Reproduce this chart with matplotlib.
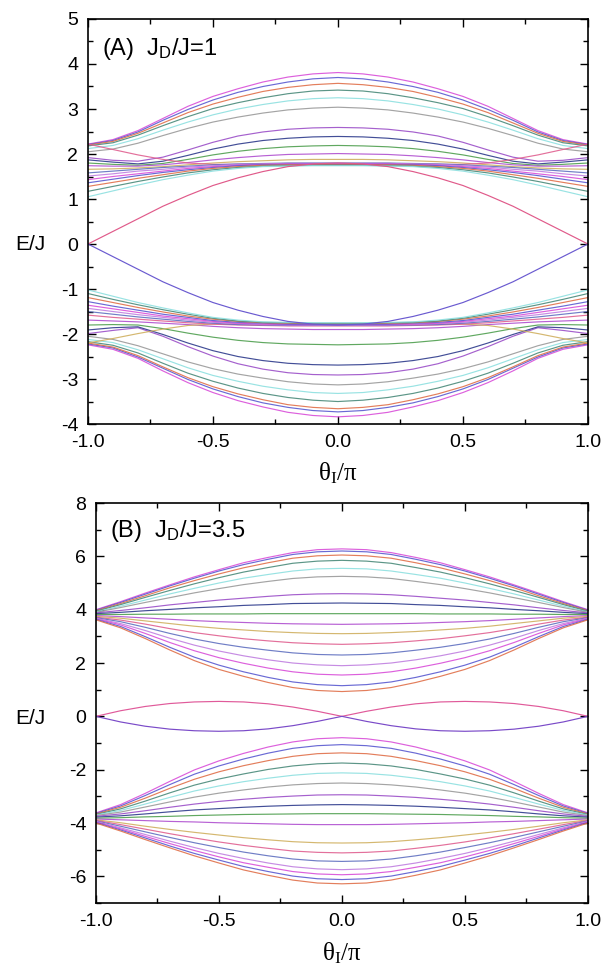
import numpy as np
import matplotlib
matplotlib.use("Agg")
from matplotlib import pyplot as plt
from matplotlib.ticker import MultipleLocator, FormatStrFormatter

plt.rcParams['font.family'] = ['Liberation Sans', 'DejaVu Sans']
plt.rcParams['axes.unicode_minus'] = False
plt.rcParams['mathtext.default'] = 'regular'

# Datos
# ========================================
# Las bandas son simétricas en theta: se guarda la mitad 0..1
theta_half = [0.0, 0.1, 0.2, 0.3, 0.4, 0.5, 0.6, 0.7, 0.8, 0.9, 1.0]
theta_full = [-1.0, -0.9, -0.8, -0.7, -0.6, -0.5, -0.4, -0.3, -0.2, -0.1, 0.0,
              0.1, 0.2, 0.3, 0.4, 0.5, 0.6, 0.7, 0.8, 0.9, 1.0]

# Panel (A) J_D/J = 1, banda superior
a_upper = [
    [3.81, 3.78, 3.71, 3.60, 3.45, 3.28, 3.06, 2.79, 2.52, 2.32, 2.22],
    [3.70, 3.67, 3.60, 3.50, 3.37, 3.20, 2.99, 2.75, 2.49, 2.30, 2.21],
    [3.57, 3.54, 3.48, 3.39, 3.26, 3.11, 2.92, 2.69, 2.46, 2.28, 2.20],
    [3.42, 3.40, 3.34, 3.25, 3.14, 3.01, 2.83, 2.63, 2.42, 2.25, 2.18],
    [3.25, 3.23, 3.18, 3.10, 3.00, 2.87, 2.71, 2.53, 2.34, 2.19, 2.12],
    [3.04, 3.02, 2.98, 2.91, 2.82, 2.71, 2.57, 2.41, 2.24, 2.11, 2.05],
    [2.59, 2.58, 2.55, 2.49, 2.40, 2.26, 2.09, 1.93, 1.84, 1.86, 1.92],
    [2.39, 2.38, 2.35, 2.30, 2.22, 2.11, 1.97, 1.84, 1.78, 1.82, 1.87],
    [2.19, 2.18, 2.16, 2.12, 2.06, 1.98, 1.88, 1.79, 1.75, 1.77, 1.80],
    [2.01, 2.00, 1.99, 1.96, 1.92, 1.87, 1.81, 1.76, 1.73, 1.73, 1.74],
    [1.88, 1.88, 1.87, 1.85, 1.83, 1.80, 1.76, 1.72, 1.69, 1.67, 1.66],
    [1.79, 1.79, 1.79, 1.78, 1.77, 1.77, 1.80, 1.88, 1.98, 2.10, 2.22],
    [1.80, 1.80, 1.80, 1.79, 1.78, 1.76, 1.73, 1.70, 1.66, 1.62, 1.58],
    [1.79, 1.79, 1.79, 1.78, 1.77, 1.74, 1.71, 1.66, 1.62, 1.56, 1.51],
    [1.78, 1.78, 1.78, 1.77, 1.75, 1.72, 1.68, 1.62, 1.56, 1.50, 1.43],
    [1.77, 1.77, 1.77, 1.76, 1.74, 1.70, 1.65, 1.59, 1.52, 1.44, 1.36],
    [1.76, 1.76, 1.76, 1.75, 1.72, 1.68, 1.62, 1.54, 1.46, 1.37, 1.28],
    [1.75, 1.75, 1.74, 1.73, 1.70, 1.65, 1.58, 1.49, 1.39, 1.28, 1.17],
    [1.74, 1.74, 1.73, 1.72, 1.68, 1.62, 1.53, 1.43, 1.31, 1.18, 1.05],
]
# Panel (A), banda inferior
a_lower = [
    [-3.84, -3.81, -3.74, -3.62, -3.48, -3.30, -3.08, -2.82, -2.54, -2.34, -2.24],
    [-3.73, -3.70, -3.63, -3.53, -3.39, -3.22, -3.01, -2.76, -2.51, -2.31, -2.22],
    [-3.66, -3.63, -3.57, -3.46, -3.33, -3.17, -2.97, -2.73, -2.48, -2.29, -2.20],
    [-3.50, -3.47, -3.41, -3.32, -3.20, -3.05, -2.87, -2.65, -2.42, -2.25, -2.17],
    [-3.32, -3.30, -3.24, -3.16, -3.05, -2.92, -2.75, -2.55, -2.35, -2.19, -2.12],
    [-3.13, -3.11, -3.06, -2.98, -2.89, -2.77, -2.62, -2.44, -2.26, -2.12, -2.05],
    [-2.91, -2.90, -2.86, -2.78, -2.66, -2.49, -2.28, -2.05, -1.86, -1.92, -1.99],
    [-2.69, -2.68, -2.65, -2.59, -2.50, -2.37, -2.20, -2.01, -1.84, -1.86, -1.91],
    [-2.24, -2.23, -2.22, -2.19, -2.14, -2.07, -1.98, -1.88, -1.80, -1.79, -1.80],
    [-1.90, -1.90, -1.89, -1.88, -1.86, -1.83, -1.79, -1.76, -1.73, -1.71, -1.69],
    [-1.80, -1.80, -1.80, -1.79, -1.78, -1.78, -1.81, -1.89, -1.99, -2.10, -2.20],
    [-1.82, -1.82, -1.82, -1.81, -1.80, -1.78, -1.75, -1.71, -1.67, -1.63, -1.58],
    [-1.81, -1.81, -1.81, -1.80, -1.79, -1.76, -1.72, -1.67, -1.62, -1.56, -1.50],
    [-1.80, -1.80, -1.80, -1.79, -1.77, -1.74, -1.69, -1.63, -1.57, -1.50, -1.43],
    [-1.79, -1.79, -1.79, -1.78, -1.76, -1.72, -1.66, -1.60, -1.52, -1.44, -1.36],
    [-1.78, -1.78, -1.78, -1.76, -1.74, -1.70, -1.63, -1.56, -1.47, -1.38, -1.28],
    [-1.77, -1.77, -1.76, -1.75, -1.72, -1.67, -1.60, -1.51, -1.41, -1.30, -1.19],
    [-1.76, -1.76, -1.75, -1.74, -1.71, -1.65, -1.56, -1.46, -1.35, -1.23, -1.10],
    [-1.75, -1.75, -1.74, -1.73, -1.69, -1.63, -1.53, -1.42, -1.30, -1.16, -1.02],
]
# Estados de borde del panel (A)
a_edge_up = [1.80, 1.78, 1.72, 1.61, 1.47, 1.30, 1.08, 0.84, 0.56, 0.28, 0.00]
a_edge_down = [-1.80, -1.78, -1.72, -1.61, -1.47, -1.30, -1.08, -0.84, -0.56, -0.28, 0.00]

# Panel (B) J_D/J = 3.5, banda superior
b_upper = [
    [6.28, 6.25, 6.14, 5.96, 5.76, 5.50, 5.23, 4.93, 4.62, 4.30, 4.00],
    [6.20, 6.17, 6.07, 5.89, 5.69, 5.45, 5.18, 4.89, 4.58, 4.27, 3.98],
    [6.05, 6.02, 5.93, 5.76, 5.57, 5.34, 5.09, 4.82, 4.52, 4.23, 3.96],
    [5.85, 5.82, 5.74, 5.58, 5.41, 5.20, 4.97, 4.72, 4.46, 4.19, 3.94],
    [5.55, 5.53, 5.45, 5.32, 5.18, 5.00, 4.80, 4.59, 4.36, 4.13, 3.92],
    [5.25, 5.23, 5.17, 5.06, 4.94, 4.79, 4.63, 4.45, 4.27, 4.08, 3.90],
    [4.60, 4.59, 4.56, 4.50, 4.43, 4.36, 4.27, 4.18, 4.07, 3.97, 3.88],
    [4.25, 4.24, 4.23, 4.19, 4.16, 4.11, 4.07, 4.01, 3.96, 3.90, 3.85],
    [3.85, 3.85, 3.85, 3.85, 3.84, 3.84, 3.84, 3.83, 3.83, 3.82, 3.82],
    [3.45, 3.46, 3.47, 3.49, 3.52, 3.55, 3.59, 3.64, 3.69, 3.74, 3.78],
    [3.10, 3.11, 3.14, 3.18, 3.24, 3.30, 3.38, 3.48, 3.58, 3.68, 3.75],
    [2.70, 2.72, 2.76, 2.83, 2.91, 3.02, 3.14, 3.29, 3.46, 3.61, 3.72],
    [2.30, 2.32, 2.38, 2.48, 2.59, 2.73, 2.90, 3.11, 3.34, 3.55, 3.70],
    [1.90, 1.93, 2.00, 2.12, 2.27, 2.45, 2.67, 2.93, 3.22, 3.48, 3.68],
    [1.55, 1.58, 1.67, 1.81, 1.99, 2.20, 2.46, 2.77, 3.11, 3.43, 3.66],
    [1.15, 1.19, 1.29, 1.46, 1.67, 1.92, 2.22, 2.59, 2.99, 3.37, 3.64],
    [0.93, 0.97, 1.08, 1.27, 1.50, 1.76, 2.09, 2.49, 2.92, 3.32, 3.62],
]
# Panel (B), banda inferior
b_lower = [
    [-0.80, -0.84, -0.96, -1.15, -1.39, -1.67, -2.01, -2.44, -2.89, -3.31, -3.62],
    [-1.06, -1.10, -1.20, -1.38, -1.60, -1.86, -2.17, -2.56, -2.97, -3.36, -3.64],
    [-1.37, -1.40, -1.50, -1.66, -1.85, -2.08, -2.36, -2.70, -3.07, -3.41, -3.66],
    [-1.75, -1.78, -1.86, -1.99, -2.16, -2.35, -2.58, -2.87, -3.18, -3.47, -3.68],
    [-2.12, -2.14, -2.21, -2.32, -2.45, -2.61, -2.80, -3.04, -3.29, -3.53, -3.70],
    [-2.50, -2.52, -2.57, -2.65, -2.76, -2.88, -3.03, -3.21, -3.40, -3.59, -3.72],
    [-2.94, -2.95, -2.99, -3.04, -3.11, -3.19, -3.29, -3.41, -3.54, -3.66, -3.75],
    [-3.31, -3.32, -3.34, -3.37, -3.41, -3.46, -3.51, -3.58, -3.66, -3.73, -3.78],
    [-3.65, -3.65, -3.66, -3.67, -3.68, -3.70, -3.72, -3.75, -3.77, -3.80, -3.82],
    [-4.06, -4.06, -4.05, -4.03, -4.01, -3.99, -3.96, -3.94, -3.91, -3.88, -3.85],
    [-4.75, -4.74, -4.70, -4.63, -4.55, -4.45, -4.35, -4.24, -4.12, -3.99, -3.88],
    [-5.12, -5.10, -5.05, -4.95, -4.84, -4.71, -4.56, -4.40, -4.23, -4.06, -3.90],
    [-5.44, -5.42, -5.35, -5.23, -5.09, -4.92, -4.74, -4.54, -4.33, -4.12, -3.92],
    [-5.75, -5.72, -5.64, -5.50, -5.33, -5.14, -4.92, -4.68, -4.43, -4.18, -3.94],
    [-5.94, -5.91, -5.82, -5.66, -5.49, -5.27, -5.03, -4.77, -4.50, -4.22, -3.96],
    [-6.12, -6.09, -5.99, -5.82, -5.63, -5.39, -5.14, -4.86, -4.56, -4.26, -3.98],
    [-6.28, -6.25, -6.14, -5.96, -5.76, -5.50, -5.23, -4.93, -4.62, -4.30, -4.00],
]
# Estados de borde del panel (B): arco superior (rosa) e inferior (morado)
b_edge_pink = [0.00, 0.21, 0.37, 0.48, 0.54, 0.56, 0.54, 0.47, 0.35, 0.19, 0.00,
               0.19, 0.35, 0.47, 0.54, 0.56, 0.54, 0.48, 0.37, 0.21, 0.00]
b_edge_purple = [0.00, -0.21, -0.37, -0.48, -0.54, -0.56, -0.54, -0.47, -0.35, -0.19, 0.00,
                 -0.19, -0.35, -0.47, -0.54, -0.56, -0.54, -0.48, -0.37, -0.21, 0.00]

# Colores de las líneas (ciclo tipo Origin)
palette = ['#d94fd9', '#5a5ad0', '#e0704a', '#4a8a7a', '#8ee0e0', '#9a9a9a',
           '#9b4fc8', '#2e3b8c', '#4f9f4f', '#b050d0', '#d0b060', '#e06090',
           '#6070c0', '#c080e0']
lw = 0.85


def mirror(row):
    # Reconstruye el rango -1..1 a partir de la mitad 0..1
    row = list(row)
    return row[::-1] + row[1:]


th_mirror = [-t for t in theta_half[::-1]] + theta_half[1:]


def draw_bands(ax, bands):
    for i, row in enumerate(bands):
        ax.plot(th_mirror, mirror(row), '-', color=palette[i % len(palette)],
                lw=lw, alpha=0.9)


def style_axis(ax, ymin, ymax, ystep):
    ax.set_xlim(-1, 1)
    ax.set_ylim(ymin, ymax)
    ax.xaxis.set_major_locator(MultipleLocator(0.5))
    ax.xaxis.set_minor_locator(MultipleLocator(0.25))
    ax.xaxis.set_major_formatter(FormatStrFormatter('%.1f'))
    ax.yaxis.set_major_locator(MultipleLocator(ystep))
    ax.yaxis.set_minor_locator(MultipleLocator(ystep / 2))
    ax.tick_params(which='both', direction='in', top=True, right=True,
                   labelsize=14, width=1.0)
    ax.tick_params(which='major', length=6, pad=7)
    ax.tick_params(which='minor', length=3.5)
    for s in ax.spines.values():
        s.set_linewidth(1.2)


fig = plt.figure(figsize=(6.15, 9.69), dpi=100)

# Panel A
ax_a = fig.add_axes([0.143, 0.5624, 0.813, 0.4180])
draw_bands(ax_a, a_upper)
draw_bands(ax_a, a_lower)
ax_a.plot(th_mirror, mirror(a_edge_up), '-', color='#e05a8a', lw=lw)
ax_a.plot(th_mirror, mirror(a_edge_down), '-', color='#6a5ad0', lw=lw)
style_axis(ax_a, -4, 5, 1)
ax_a.text(0.028, 0.925, r'(A)  J$_\mathregular{D}$/J=1', transform=ax_a.transAxes,
          fontsize=17, ha='left', va='center')

# Panel B
ax_b = fig.add_axes([0.156, 0.0681, 0.800, 0.4128])
draw_bands(ax_b, b_upper)
draw_bands(ax_b, b_lower)
ax_b.plot(theta_full, b_edge_pink, '-', color='#e05a9a', lw=lw)
ax_b.plot(theta_full, b_edge_purple, '-', color='#7a4ac8', lw=lw)
style_axis(ax_b, -7, 8, 2)
ax_b.text(0.028, 0.93, r'(B)  J$_\mathregular{D}$/J=3.5', transform=ax_b.transAxes,
          fontsize=17, ha='left', va='center')

# Etiquetas de los ejes
fig.text(30 / 615, 1 - 244 / 969, 'E/J', fontsize=15, ha='center', va='center')
fig.text(30 / 615, 1 - 718 / 969, 'E/J', fontsize=15, ha='center', va='center')
fig.text(338 / 615, 1 - 480 / 969, r'θ$_\mathregular{I}$/π', fontsize=18,
         ha='center', va='baseline', family=['Liberation Serif', 'DejaVu Serif'])
fig.text(342 / 615, 1 - 960 / 969, r'θ$_\mathregular{I}$/π', fontsize=18,
         ha='center', va='baseline', family=['Liberation Serif', 'DejaVu Serif'])

fig.savefig('out.png', dpi=100)
